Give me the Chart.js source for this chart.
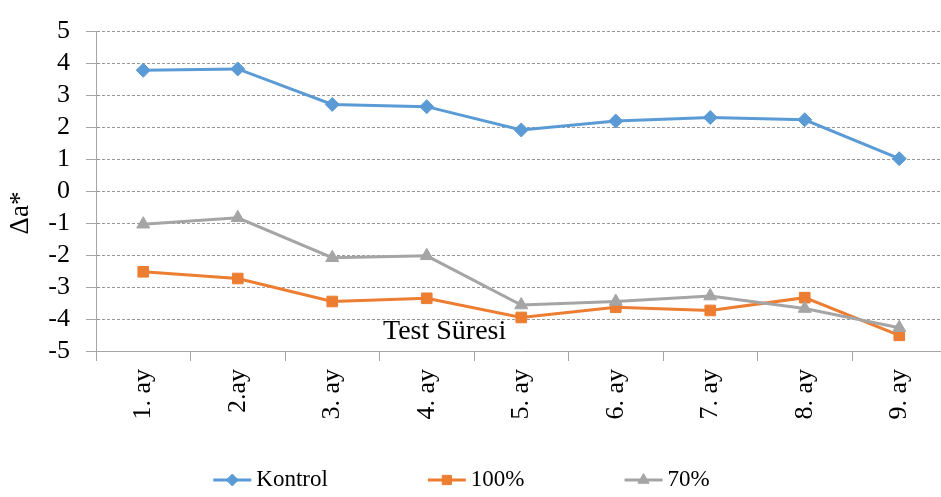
<!DOCTYPE html>
<html>
<head>
<meta charset="utf-8">
<script src="https://cdn.jsdelivr.net/npm/chart.js@4/dist/chart.umd.min.js"></script>
<style>
  html, body { margin: 0; padding: 0; background: #fff; overflow: hidden; }
  #wrap { width: 955px; height: 497px; }
</style>
</head>
<body>
<div id="wrap"><canvas id="c" width="955" height="497"></canvas></div>
<script>
// Months of the test period
const months = ['1. ay', '2.ay', '3. ay', '4. ay', '5. ay', '6. ay', '7. ay', '8. ay', '9. ay'];

// Δa* values per group
const kontrol  = [3.79, 3.83, 2.72, 2.65, 1.92, 2.20, 2.31, 2.24, 1.02];
const yuzde100 = [-2.52, -2.73, -3.45, -3.35, -3.95, -3.63, -3.73, -3.33, -4.51];
const yuzde70  = [-1.03, -0.83, -2.08, -2.02, -3.56, -3.45, -3.28, -3.67, -4.27];

const seriesNames = ['Kontrol', '100%', '70%'];
const yMin = -5, yMax = 5, yStep = 1;
const yAxisTitle = 'Δa*';
const xAxisTitle = 'Test Süresi';

const SERIF = '"Liberation Serif", "Times New Roman", serif';
const COLORS = ['#5B9BD5', '#ED7D31', '#A5A5A5'];
const MARKERS = [
  { style: 'rectRot', radius: 7 },
  { style: 'rect', radius: 7.5 },
  { style: 'triangle', radius: 7.5 }
];

function makeDataset(i, values, order) {
  return {
    label: seriesNames[i],
    data: values,
    borderColor: COLORS[i],
    backgroundColor: COLORS[i],
    borderWidth: 3,
    tension: 0,
    pointStyle: MARKERS[i].style,
    pointRadius: MARKERS[i].radius,
    pointBorderWidth: 1,
    pointBackgroundColor: COLORS[i],
    pointBorderColor: COLORS[i],
    order: order
  };
}

// Axis title, in-plot caption and the line+marker legend
const decorations = {
  id: 'decorations',
  afterDraw(chart) {
    const ctx = chart.ctx;

    ctx.save();
    ctx.fillStyle = '#000';
    ctx.font = '27px ' + SERIF;
    ctx.translate(21, 213);
    ctx.rotate(-Math.PI / 2);
    ctx.textAlign = 'center';
    ctx.textBaseline = 'middle';
    ctx.fillText(yAxisTitle, 0, 0);
    ctx.restore();

    ctx.save();
    ctx.fillStyle = '#000';
    ctx.font = '28px ' + SERIF;
    ctx.textAlign = 'left';
    ctx.textBaseline = 'alphabetic';
    ctx.fillText(xAxisTitle, 383, 339);
    ctx.restore();

    // legend
    ctx.save();
    ctx.font = '23px ' + SERIF;
    const lineLen = 38, textGap = 5, itemGap = 100, centerX = 461.5, y = 480;
    const items = chart.data.datasets.map((ds, i) => ({
      ds, i, w: lineLen + textGap + ctx.measureText(ds.label).width
    }));
    const total = items.reduce((s, it) => s + it.w, 0) + itemGap * (items.length - 1);
    let x = centerX - total / 2;
    items.forEach(it => {
      const ds = it.ds;
      ctx.strokeStyle = ds.borderColor;
      ctx.lineWidth = 3;
      ctx.beginPath();
      ctx.moveTo(x, y);
      ctx.lineTo(x + lineLen, y);
      ctx.stroke();
      ctx.fillStyle = ds.pointBackgroundColor;
      ctx.strokeStyle = ds.pointBorderColor;
      ctx.lineWidth = 1;
      Chart.helpers.drawPoint(ctx, {
        pointStyle: ds.pointStyle, radius: ds.pointRadius - 1, rotation: 0, borderWidth: 1
      }, x + lineLen / 2, y);
      ctx.fillStyle = '#000';
      ctx.textAlign = 'left';
      ctx.textBaseline = 'middle';
      ctx.fillText(ds.label, x + lineLen + textGap, y);
      x += it.w + itemGap;
    });
    ctx.restore();
  }
};

new Chart(document.getElementById('c'), {
  type: 'line',
  data: {
    labels: months,
    datasets: [
      makeDataset(0, kontrol, 2),
      makeDataset(1, yuzde100, 1),
      makeDataset(2, yuzde70, 0)
    ]
  },
  options: {
    responsive: false,
    animation: false,
    layout: { padding: { top: 16, left: 0, right: 0, bottom: 0 } },
    plugins: { legend: { display: false }, tooltip: { enabled: false } },
    scales: {
      x: {
        offset: true,
        grid: {
          offset: true, drawOnChartArea: false, drawTicks: true,
          tickLength: 10, color: '#A6A6A6', tickColor: '#A6A6A6'
        },
        border: { display: true, color: '#A6A6A6', width: 1 },
        ticks: {
          autoSkip: false, maxRotation: 90, minRotation: 90, padding: 8,
          color: '#000', font: { family: SERIF, size: 26 }
        },
        afterFit(scale) { scale.height = 146; }
      },
      y: {
        min: yMin, max: yMax,
        ticks: {
          stepSize: yStep, autoSkip: false, padding: 16, color: '#000',
          font: { family: SERIF, size: 26 }
        },
        grid: {
          color: '#999999', tickColor: '#A6A6A6', tickLength: 10, tickBorderDash: []
        },
        border: { display: true, color: '#A6A6A6', width: 1, dash: [3, 2] },
        afterFit(scale) { scale.width = 96; }
      }
    }
  },
  plugins: [decorations]
});
</script>
</body>
</html>
